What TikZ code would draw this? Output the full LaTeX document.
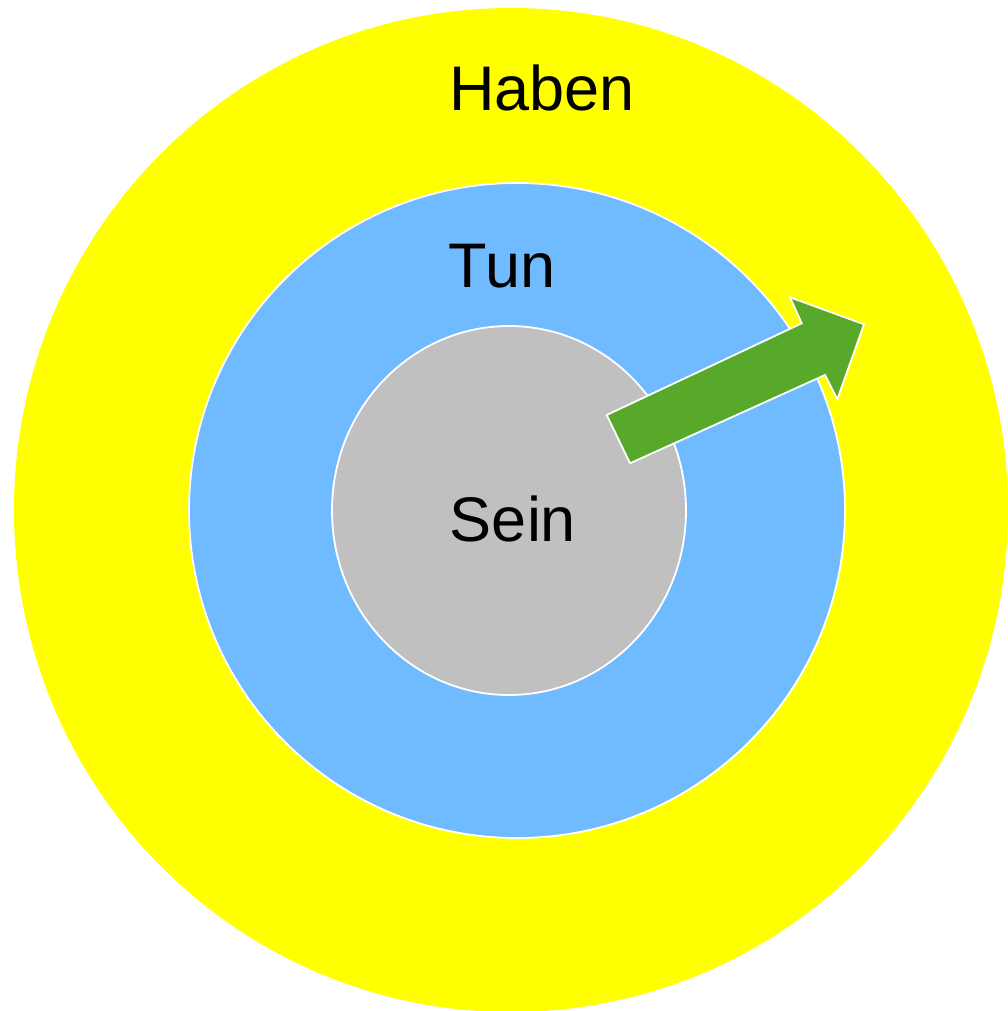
\documentclass[tikz,border=0pt]{standalone}
\usepackage{fontspec}
\setmainfont{Liberation Sans}
\usetikzlibrary{shapes.geometric}

\definecolor{habenyellow}{RGB}{255,255,0}
\definecolor{tunblue}{RGB}{112,187,255}
\definecolor{seingray}{RGB}{192,192,192}
\definecolor{arrowgreen}{RGB}{88,169,42}

\begin{document}
\begin{tikzpicture}[x=1pt, y=-1pt,
    ring/.style={ellipse, inner sep=0pt, draw=white, line width=1.8pt},
    word/.style={anchor=base, font=\fontsize{63}{68}\selectfont}]
    \useasboundingbox (0,0) rectangle (1008,1011);
    \clip (0,0) rectangle (1008,1011);

    \node[ring, fill=habenyellow, draw=none, minimum width=994pt, minimum height=1004pt] (haben) at (511, 510) {};
    \node[ring, fill=tunblue, minimum width=656pt, minimum height=655pt] (tun) at (517, 510.5) {};
    \node[ring, fill=seingray, minimum width=354pt, minimum height=369pt] (sein) at (509, 510.5) {};

    \node[word] (habenlabel) at (542, 111) {Haben};
    \node[word] (tunlabel) at (502, 287) {Tun};
    \node[word] (seinlabel) at (513, 541.5) {Sein};

    % Arrow
    \draw[fill=arrowgreen, draw=white, line width=1.8pt, line join=miter]
        (606.7, 415) -- (801.7, 323.3) -- (790, 297.3) -- (864, 324.3)
        -- (837.3, 399.3) -- (825, 375) -- (630, 463.3) -- cycle;

\end{tikzpicture}
\end{document}
